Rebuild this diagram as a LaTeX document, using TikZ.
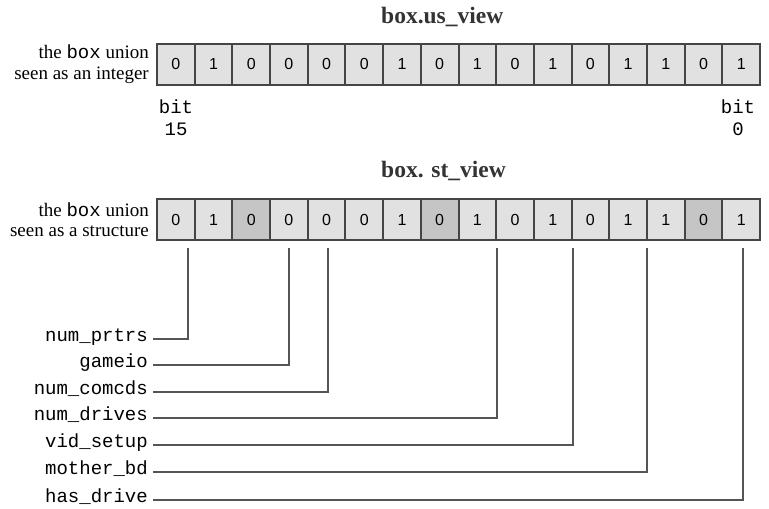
\documentclass[tikz,border=0pt]{standalone}
\usepackage{fontspec}
\setmainfont{Liberation Serif}
\setsansfont{Liberation Sans}
\setmonofont{Liberation Mono}
\usetikzlibrary{positioning}

\definecolor{cellgray}{HTML}{E1E1E1}
\definecolor{darkcell}{HTML}{C5C5C5}
\definecolor{rim}{HTML}{454545}
\definecolor{wire}{HTML}{555555}
\definecolor{ink}{HTML}{333333}

\begin{document}
\begin{tikzpicture}[
    x=1pt, y=-1pt,
    cell/.style={
        rectangle, draw=rim, line width=2pt, fill=cellgray,
        minimum width=37.69pt, minimum height=41pt, inner sep=0pt,
        font=\sffamily\fontsize{16}{16}\selectfont
    },
    shaded/.style={cell, fill=darkcell},
    caption/.style={font=\fontsize{19}{20.5}\selectfont, align=right, anchor=east, inner sep=0pt},
    heading/.style={font=\bfseries\fontsize{23.5}{23.5}\selectfont, text=ink, anchor=base west, inner sep=0pt},
    bitno/.style={font=\ttfamily\fontsize{19}{22}\selectfont, align=center, anchor=north, inner sep=0pt},
    field/.style={
        font=\ttfamily\fontsize{19}{19}\selectfont, text height=1ex, text depth=0pt,
        inner ysep=0pt, inner xsep=5pt, anchor=east
    },
    leader/.style={draw=wire, line width=1.2pt},
]
\useasboundingbox (0,0) rectangle (769,509);

% Integer view
\node[heading] (ustitle) at (381,23) {box.us\_view};
\node[caption] (uscap) at (149,64) {the \texttt{box} union\\seen as an integer};
\foreach \b [count=\i from 0] in {0,1,0,0,0,0,1,0,1,0,1,0,1,1,0,1}
    \node[cell] (u\i) at ({157+37.69*(\i+0.5)},64) {\b};
\node[bitno] (hibit) at (176,100) {bit\\15};
\node[bitno] (lobit) at (738,100) {bit\\0};

% Structure view
\node[heading] (sttitle) at (381,177) {box. st\_view};
\node[caption] (stcap) at (149,219.5) {the \texttt{box} union\\seen as a structure};
\foreach \b/\s [count=\i from 0] in {0/cell,1/cell,0/shaded,0/cell,0/cell,0/cell,1/cell,0/shaded,
                                     1/cell,0/cell,1/cell,0/cell,1/cell,1/cell,0/shaded,1/cell}
    \node[\s] (s\i) at ({157+37.69*(\i+0.5)},219.5) {\b};

% Field leaders
\coordinate (t1) at (188,248);
\coordinate (t2) at (289,248);
\coordinate (t3) at (328,248);
\coordinate (t4) at (497,248);
\coordinate (t5) at (573,248);
\coordinate (t6) at (647,248);
\coordinate (t7) at (743,248);

\node[field] (f1) at (153,339) {num\_prtrs};
\node[field] (f2) at (153,365) {gameio};
\node[field] (f3) at (153,392) {num\_comcds};
\node[field] (f4) at (153,418) {num\_drives};
\node[field] (f5) at (153,445) {vid\_setup};
\node[field] (f6) at (153,472) {mother\_bd};
\node[field] (f7) at (153,500) {has\_drive};

\draw[leader] (f1.east) -| (t1);
\draw[leader] (f2.east) -| (t2);
\draw[leader] (f3.east) -| (t3);
\draw[leader] (f4.east) -| (t4);
\draw[leader] (f5.east) -| (t5);
\draw[leader] (f6.east) -| (t6);
\draw[leader] (f7.east) -| (t7);

\end{tikzpicture}
\end{document}
